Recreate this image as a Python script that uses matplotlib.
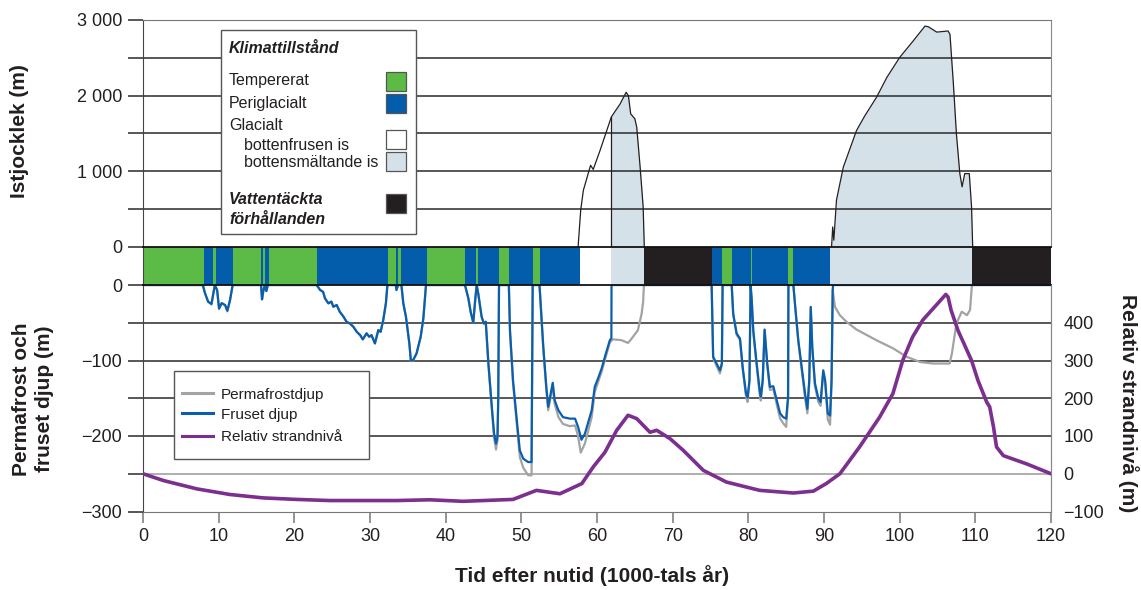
import matplotlib.pyplot as plt
import numpy as np
from matplotlib.patches import Rectangle
from matplotlib.lines import Line2D

plt.rcParams['font.family'] = ['Liberation Sans', 'DejaVu Sans']

# climate state periods (start in 1000 years after present)
clim_start = [0, 8.05, 9.2, 9.65, 11.9, 15.6, 15.86, 16.08, 16.6, 23.0, 32.4, 33.4, 33.65,
              34.1, 37.5, 42.55, 44.0, 44.27, 47.05, 48.4, 51.55, 52.45, 57.75, 61.9,
              66.25, 75.2, 76.5, 77.85, 80.35, 80.5, 85.2, 85.9, 90.8, 109.55]
clim_state = ['T', 'P', 'T', 'P', 'T', 'P', 'T', 'P', 'T', 'P', 'T', 'P', 'T',
              'P', 'T', 'P', 'T', 'P', 'T', 'P', 'T', 'P', 'Gf', 'Gm',
              'W', 'P', 'T', 'P', 'T', 'P', 'T', 'P', 'Gm', 'W']
clim_stop = 120

# ice thickness (m)
ice1_t = [57.5, 57.85, 58.2, 59.15, 59.5, 60.4, 61.9, 63.05, 63.85, 64.15, 64.45, 65.0,
          65.25, 65.7, 66.1, 66.25]
ice1_h = [0, 490, 750, 1080, 1025, 1275, 1720, 1890, 2045, 2000, 1760, 1695,
          1585, 1055, 530, 0]
ice2_t = [91.0, 91.15, 91.3, 91.65, 92.55, 94.3, 95.4, 96.95, 98.3, 100.0, 101.8, 103.35,
          103.8, 104.9, 106.4, 106.65, 107.1, 107.5, 107.95, 108.25, 108.6, 109.2, 109.5, 109.65]
ice2_h = [0, 265, 90, 620, 1055, 1540, 1735, 1980, 2240, 2505, 2725, 2920,
          2910, 2840, 2855, 2810, 2155, 1495, 970, 795, 970, 970, 530, 0]

# frozen depth (m)
frost_t = [0, 7.9, 8.2, 8.6, 9.05, 9.3, 9.5, 9.8, 10.05, 10.4, 10.85, 11.15, 11.5, 11.85,
           15.6, 15.73, 15.9, 16.1, 16.3, 16.5,
           22.95, 23.4, 23.8, 24.05, 24.5, 24.9, 25.15, 25.6, 26.0, 26.5, 26.9, 27.35, 27.8,
           28.25, 28.7, 29.05, 29.55, 29.9, 30.2, 30.65, 31.1, 31.4, 31.75, 32.1, 32.3,
           33.4, 33.5, 33.7, 34.15, 34.4, 34.75, 35.2, 35.4, 35.7, 36.15, 36.7, 37.05, 37.4,
           42.55, 43.0, 43.3, 43.65, 43.9, 44.1, 44.3, 44.75, 45.05, 45.3, 45.65, 46.1, 46.4,
           46.65, 46.85, 46.95, 47.05,
           48.35, 48.5, 48.9, 49.4, 49.8, 50.25, 50.9, 51.35, 51.5,
           52.4, 52.9, 53.3, 53.55, 53.8, 54.15, 54.4, 54.9, 55.5, 56.4, 57.1, 57.5, 57.95,
           58.4, 59.3, 59.7, 60.2, 60.6, 61.05, 61.7, 61.9, 61.92,
           75.15, 75.35, 75.8, 76.25, 76.5, 76.6,
           77.8, 78.0, 78.45, 78.9, 79.25, 79.7, 79.9, 80.15, 80.3, 80.45, 80.65, 81.1, 81.5,
           81.65, 81.9, 82.15, 82.5, 82.85, 83.3, 83.75, 84.2, 84.6, 85.0, 85.25, 85.3,
           85.95, 86.2, 86.6, 87.05, 87.5, 87.8, 88.05, 88.25, 88.45, 88.8, 89.25, 89.55,
           89.9, 90.15, 90.5, 90.8, 91.0, 91.15, 91.2, 120]
frost_d = [0, 0, -11, -22, -25, -11, 0, -7, -31, -24, -26.5, -34, -20, 0,
           0, -19, -8, 0, -8, 0,
           0, -6.6, -9, -17.7, -24.3, -22, -28.8, -26.5, -35.4, -42, -48.7, -51, -55.3,
           -62, -66.4, -72, -64, -68.6, -66.4, -77.4, -59.7, -62, -46.5, -24.3, 0,
           0, -6.6, 0, 0, -24.3, -42, -77.4, -100, -99.5, -90.7, -68.6, -44.2, 0,
           0, -17.7, -35.4, -50, -20, 0, -11, -42, -51, -48.7, -104, -161.5, -197,
           -210, -201, -148, 0,
           0, -60, -126, -179, -219, -230, -234.5, -234.5, 0,
           0, -81.6, -134.7, -161.3, -148, -129.5, -152.5, -166, -175, -177, -177, -188, -205,
           -197, -166, -135, -122, -111, -95, -73, -70.8, 0,
           0, -95, -104, -113, -104, 0,
           0, -38, -64, -71, -108.6, -144, -149, -126, 0, -20, -60, -104, -139.6,
           -148, -126, -59, -104, -135, -134, -152.6, -170, -175, -177, -148, 0,
           0, -29, -73, -108.6, -144, -164, -126, -29, -82, -130, -150, -155,
           -113, -126, -170, -173, -126, -6.6, 0, 0]

# permafrost depth (m)
perma_t = [0, 7.9, 8.2, 8.6, 9.05, 9.3, 9.5, 9.8, 10.05, 10.4, 10.85, 11.15, 11.5, 11.85,
           15.6, 15.73, 15.9, 16.1, 16.3, 16.5,
           22.95, 23.4, 23.8, 24.05, 24.5, 24.9, 25.15, 25.6, 26.0, 26.5, 26.9, 27.35, 27.8,
           28.25, 28.7, 29.05, 29.55, 29.9, 30.2, 30.65, 31.1, 31.4, 31.75, 32.1, 32.3,
           33.4, 33.5, 33.7, 34.15, 34.4, 34.75, 35.2, 35.4, 35.7, 36.15, 36.7, 37.05, 37.4,
           42.55, 43.0, 43.3, 43.65, 43.9, 44.1, 44.3, 44.75, 45.05, 45.3, 45.65, 46.1, 46.4,
           46.65, 46.85, 46.95, 47.05,
           48.35, 48.5, 48.9, 49.4, 49.8, 50.25, 50.9, 51.35, 51.5,
           52.4, 52.9, 53.3, 53.55, 53.8, 54.15, 54.4, 54.9, 55.5, 56.4, 57.1, 57.5, 57.85,
           58.4, 59.3, 59.7, 60.2, 60.6, 61.05, 61.7, 62.1, 63.2, 64.1, 64.5, 65.4, 65.9,
           66.1, 66.2,
           75.15, 75.35, 75.8, 76.25, 76.5, 76.6,
           77.8, 78.0, 78.45, 78.9, 79.25, 79.7, 79.9, 80.15, 80.3, 80.45, 80.65, 81.1, 81.5,
           81.65, 81.9, 82.15, 82.5, 82.85, 83.3, 83.75, 84.2, 84.6, 85.0, 85.25, 85.3,
           85.95, 86.2, 86.6, 87.05, 87.5, 87.8, 88.05, 88.25, 88.45, 88.8, 89.25, 89.55,
           89.9, 90.15, 90.5, 90.8, 91.0, 91.15, 91.45, 92.1, 93.0, 94.3, 96.9, 99.15,
           100.9, 102.7, 104.4, 106.6, 106.9, 107.5, 108.2, 108.9, 109.3, 109.55, 120]
perma_d = [0, 0, -11, -22, -26, -11, 0, -7, -32, -24, -27, -35, -20, 0,
           0, -19, -8, 0, -8, 0,
           0, -6.6, -9, -17.7, -24.3, -22, -28.8, -26.5, -35.4, -42, -48.7, -51, -55.3,
           -62, -66.4, -72, -64, -68.6, -66.4, -77.4, -59.7, -62, -46.5, -24.3, 0,
           0, -6.6, 0, 0, -24.3, -42, -77.4, -101, -100, -90.7, -68.6, -44.2, 0,
           0, -17.7, -35.4, -50, -20, 0, -11, -42, -51, -48.7, -106, -165, -203,
           -218, -206, -150, 0,
           0, -62, -130, -185, -228, -242, -252, -252, 0,
           0, -84, -138, -166, -152, -133, -157, -175, -184, -187, -186, -200, -222,
           -210, -175, -142, -127, -115, -99, -76, -72, -73, -76.7, -72, -60, -38,
           -22, 0,
           0, -97, -107, -117, -106, 0,
           0, -39, -66, -73, -111, -148, -155, -128, 0, -20, -62, -107, -145,
           -153, -128, -60, -107, -139, -138, -158, -177, -183, -188, -152, 0,
           0, -30, -75, -112, -150, -170, -130, -30, -84, -134, -155, -160,
           -116, -130, -178, -185, -130, -6.6, -29, -40, -49, -59, -73, -84,
           -95, -102, -104, -104, -91, -51, -35.4, -40, -33, 0, 0]

# relative shore level (m)
shore_t = [0, 2.7, 7.1, 11.5, 15.9, 20.3, 24.7, 33.5, 37.9, 42.3, 48.9, 52.0, 55.1, 58.0,
           59.5, 61.05, 62.6, 64.1, 65.25, 67.0, 67.9, 69.65, 71.4, 74.05, 77.1, 81.5,
           85.95, 88.6, 90.3, 92.1, 94.7, 97.35, 99.1, 100.4, 101.7, 103.05, 104.8, 106.1,
           106.4, 106.8, 107.7, 108.4, 109.5, 110.35, 111.5, 111.9, 112.4, 112.8, 113.7,
           116.8, 120]
shore_r = [0, -18, -40, -55, -64, -68, -71, -71, -69, -73, -68, -44, -53, -26,
           18, 57, 115, 155, 146, 110, 115, 93, 62, 9, -22, -44,
           -51, -46, -26, 0, 71, 150, 212, 300, 362, 407, 446, 475,
           468, 433, 380, 349, 300, 247, 190, 177, 124, 71, 48,
           26, 0]

clim_colors = {'T': '#5cbb47', 'P': '#045dab', 'Gf': '#ffffff', 'Gm': '#d5e1e8', 'W': '#231f20'}
BLUE = '#0a5fad'
GRAY = '#a3a3a3'
PURPLE = '#7c2f8e'
TXT = '#231f20'

W_PX, H_PX = 1141, 590


def fx(x):
    return x / W_PX


def fy(y):
    return 1 - y / H_PX


fig = plt.figure(figsize=(W_PX / 100, H_PX / 100), dpi=100)
left, right = 143, 1051
ax_bot = fig.add_axes([fx(left), fy(511.5), fx(right - left), (511.5 - 285) / H_PX])
ax_top = fig.add_axes([fx(left), fy(247), fx(right - left), (247 - 20) / H_PX])
ax_bar = fig.add_axes([fx(left), fy(285), fx(right - left), 38 / H_PX])

for ax in (ax_top, ax_bar, ax_bot):
    ax.set_xlim(0, 120)

# ---- ice thickness
ax_top.set_ylim(0, 3000)
for y in range(500, 3000, 500):
    ax_top.axhline(y, color='#2a2a2a', lw=1.1, zorder=2)
k = ice1_t.index(61.9)
ax_top.fill_between(ice1_t[k:], 0, ice1_h[k:], color=clim_colors['Gm'], lw=0, zorder=1)
ax_top.plot([ice1_t[k], ice1_t[k]], [0, ice1_h[k]], color=TXT, lw=0.9, zorder=3)
ax_top.plot(ice1_t, ice1_h, color=TXT, lw=0.9, zorder=3)
ax_top.fill_between(ice2_t, 0, ice2_h, color=clim_colors['Gm'], lw=0, zorder=1)
ax_top.plot(ice2_t, ice2_h, color=TXT, lw=0.9, zorder=3)
ax_top.set_yticks(range(0, 3001, 500))
ax_top.set_yticklabels(['0', '', '1 000', '', '2 000', '', '3 000'])
ax_top.set_xticks([])
ax_top.spines['bottom'].set_visible(False)
ax_top.spines['top'].set_color('#777777')
ax_top.spines['right'].set_color('#888888')
ax_top.spines['left'].set_color('#444444')

# ---- climate bar
ends = clim_start[1:] + [clim_stop]
for s, e, st in zip(clim_start, ends, clim_state):
    ax_bar.axvspan(s, e, color=clim_colors[st], lw=0)
ax_bar.set_ylim(0, 1)
ax_bar.set_xticks([])
ax_bar.set_yticks([])
for side in ('top', 'bottom'):
    ax_bar.spines[side].set_color('#111111')
    ax_bar.spines[side].set_linewidth(1.3)
ax_bar.spines['left'].set_color('#444444')
ax_bar.spines['right'].set_visible(False)

# ---- permafrost / frozen depth
ax_bot.set_ylim(-300, 0)
for y in (-50, -100, -150, -200):
    ax_bot.axhline(y, color='#2a2a2a', lw=1.1, zorder=1)
ax_bot.axhline(-250, color='#9a9a9a', lw=1.1, zorder=1)
ax_bot.plot(perma_t, perma_d, color=GRAY, lw=1.6, zorder=2)
ax_bot.plot(frost_t, frost_d, color=BLUE, lw=1.6, zorder=3)
ax_bot.set_yticks(range(-300, 1, 50))
ax_bot.set_yticklabels(['\u2212300', '', '\u2212200', '', '\u2212100', '', '0'])
ax_bot.set_xticks(range(0, 121, 10))
ax_bot.spines['top'].set_visible(False)
ax_bot.spines['bottom'].set_color('#777777')
ax_bot.spines['right'].set_color('#888888')
ax_bot.spines['left'].set_color('#444444')
ax_bot.tick_params(axis='x', length=8, width=1.1, color='#777777', pad=4,
                   labelsize=13, labelcolor=TXT)

for ax in (ax_top, ax_bot):
    ax.tick_params(axis='y', length=11, width=1.1, color='#2a2a2a', pad=4,
                   labelsize=13, labelcolor=TXT)

# ---- relative shore level (right axis)
ax_r = ax_bot.twinx()
ax_r.set_ylim(-100, 500)
ax_r.plot(shore_t, shore_r, color=PURPLE, lw=2.6, zorder=4)
ax_r.set_yticks([-100, 0, 100, 200, 300, 400])
ax_r.set_yticklabels(['\u2212100', '0', '100', '200', '300', '400'])
ax_r.tick_params(axis='y', length=0, pad=9, labelsize=13, labelcolor=TXT)
for side in ('top', 'bottom', 'left'):
    ax_r.spines[side].set_visible(False)
ax_r.spines['right'].set_color('#888888')

# ---- axis titles
fig.text(fx(20), fy(131.5), 'Istjocklek (m)', rotation=90, fontsize=15, fontweight='bold',
         ha='center', va='center', color=TXT)
fig.text(fx(33), fy(399), 'Permafrost och\nfruset djup (m)', rotation=90, fontsize=15,
         fontweight='bold', ha='center', va='center', color=TXT)
fig.text(fx(1128), fy(403), 'Relativ strandnivå (m)', rotation=-90, fontsize=15,
         fontweight='bold', ha='center', va='center', color=TXT)
fig.text(fx(592), fy(576), 'Tid efter nutid (1000-tals år)', fontsize=15, fontweight='bold',
         ha='center', va='center', color=TXT)

# ---- climate state legend box
fig.add_artist(Rectangle((fx(221), fy(234.3)), fx(415.7 - 221), (234.3 - 30) / H_PX,
                         transform=fig.transFigure, facecolor='white', edgecolor='#555555',
                         lw=1.0, zorder=5))
legend_rows = [('Klimattillstånd', 229, 47.7, True, None),
               ('Tempererat', 229, 79.3, False, ('T', 71.7)),
               ('Periglacialt', 229, 102.3, False, ('P', 94)),
               ('Glacialt', 229, 124, False, None),
               ('bottenfrusen is', 244.3, 145, False, ('Gf', 130)),
               ('bottensmältande is', 244.3, 161.7, False, ('Gm', 151.7)),
               ('Vattentäckta', 229, 199, True, ('W', 194)),
               ('förhållanden', 229, 218.3, True, None)]
for label, x, y, bold, sq in legend_rows:
    fig.text(fx(x), fy(y + 5.5), label, fontsize=11.5, color=TXT, ha='left', va='baseline',
             fontweight='bold' if bold else 'normal', fontstyle='italic' if bold else 'normal',
             zorder=6)
    if sq is not None:
        st, top = sq
        fig.add_artist(Rectangle((fx(386), fy(top + 19.3)), fx(19.7), 19.3 / H_PX,
                                 transform=fig.transFigure, facecolor=clim_colors[st],
                                 edgecolor='#555555', lw=0.9, zorder=6))

# ---- line legend box
fig.add_artist(Rectangle((fx(173.7), fy(459.3)), fx(368.7 - 173.7), (459.3 - 370.7) / H_PX,
                         transform=fig.transFigure, facecolor='white', edgecolor='#555555',
                         lw=1.0, zorder=5))
for label, col, y in [('Permafrostdjup', GRAY, 393.3), ('Fruset djup', BLUE, 413.3),
                      ('Relativ strandnivå', PURPLE, 436)]:
    fig.add_artist(Line2D([fx(181.7), fx(212.7)], [fy(y), fy(y)], transform=fig.transFigure,
                          color=col, lw=2.2, zorder=6))
    fig.text(fx(220.7), fy(y + 5.3), label, fontsize=11, color=TXT, ha='left', va='baseline',
             zorder=6)

fig.savefig('out.png', dpi=100)
